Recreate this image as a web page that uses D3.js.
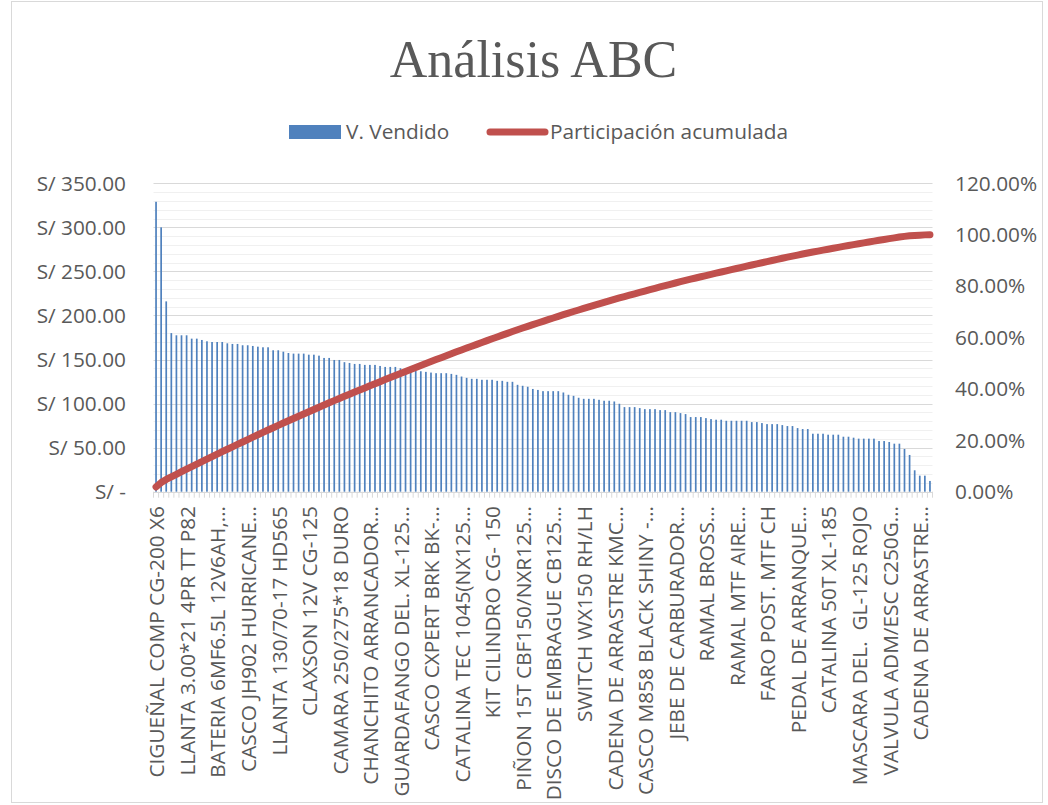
<!DOCTYPE html>
<html>
<head>
<meta charset="utf-8">
<script src="https://cdn.jsdelivr.net/npm/d3@7"></script>
<style>
  body { margin: 0; background: #fff; }
  text { font-family: "Open Sans", sans-serif; fill: #595959; white-space: pre; }
</style>
</head>
<body>
<div id="chart"></div>
<script>
(function() {
  "use strict";

  // V. Vendido per product, sorted descending
  var ventas = [
    329, 300, 216, 180, 177.5, 177.5, 177.5, 173.7, 173.7, 172.2,
    170.7, 169.9, 169.9, 169.9, 168.4, 167.7, 167.7, 166.2, 166.2, 165.4,
    164.6, 163.9, 163.9, 160.5, 160.5, 158.9, 157.4, 156.7, 156.7, 156.7,
    155.5, 155.5, 154.4, 151.8, 151.8, 149.5, 149.5, 147, 146.1, 145,
    145, 143.9, 143.9, 143.9, 142.7, 141.6, 141.6, 141.6, 140.1, 139,
    138.2, 137.1, 136.7, 136, 135.2, 134.5, 134.5, 134.5, 133.7, 132.6,
    130.7, 129.2, 128.1, 128.1, 127, 127, 127, 125.8, 125.8, 124.7,
    124.7, 121.3, 120.2, 119.1, 116.6, 115.5, 114.1, 114.1, 114.1, 114.1,
    112.6, 110, 108.8, 106.6, 105.4, 105.4, 105.4, 104.3, 103.2, 103.2,
    102.4, 99.8, 96, 96, 96, 94.9, 93.7, 93.7, 93.7, 92.6,
    92.6, 90.3, 90.3, 89.2, 88.1, 84.7, 84.7, 84.7, 83.5, 82.4,
    81.7, 81.7, 80.5, 80.5, 80.5, 80.5, 80.5, 79, 79, 77.9,
    76.7, 76.7, 76.7, 75.6, 74.5, 74.5, 72.2, 71.1, 71.1, 65.8,
    65.8, 65.8, 64.7, 64.7, 64.7, 62.4, 62.4, 61.3, 60.2, 60.2,
    60.2, 60.2, 57.5, 57.5, 56.4, 54.5, 54.5, 48.5, 41.7, 24.3,
    18.2, 18.2, 12.2
  ];

  // category names shown on the axis (every 6th product)
  var etiquetas = [
    "CIGUEÑAL COMP CG-200 X6",
    "LLANTA 3.00*21 4PR TT P82",
    "BATERIA 6MF6.5L 12V6AH,…",
    "CASCO JH902 HURRICANE…",
    "LLANTA 130/70-17 HD565",
    "CLAXSON 12V CG-125",
    "CAMARA 250/275*18 DURO",
    "CHANCHITO ARRANCADOR…",
    "GUARDAFANGO DEL. XL-125…",
    "CASCO CXPERT BRK BK-…",
    "CATALINA TEC 1045(NX125…",
    "KIT CILINDRO CG- 150",
    "PIÑON 15T CBF150/NXR125…",
    "DISCO DE EMBRAGUE CB125…",
    "SWITCH WX150 RH/LH",
    "CADENA DE ARRASTRE KMC…",
    "CASCO M858 BLACK SHINY -…",
    "JEBE DE CARBURADOR…",
    "RAMAL BROSS…",
    "RAMAL MTF AIRE…",
    "FARO POST. MTF CH",
    "PEDAL DE ARRANQUE…",
    "CATALINA 50T XL-185",
    "MASCARA DEL.  GL-125 ROJO",
    "VALVULA ADM/ESC C250G…",
    "CADENA DE ARRASTRE…"
  ];
  var pasoEtiqueta = 6;

  var ticksSoles = [0, 50, 100, 150, 200, 250, 300, 350];
  var ticksPct = [0, 0.2, 0.4, 0.6, 0.8, 1, 1.2];

  var width = 1048, height = 805;
  var left = 153.5, right = 932.5, top = 183.3, bottom = 491.7;
  var fs = 20.8;

  var total = d3.sum(ventas);
  var acumulada = Array.from(d3.cumsum(ventas), function(v) { return v / total; });

  var svg = d3.select("#chart").append("svg")
    .attr("width", width)
    .attr("height", height);

  svg.append("rect")
    .attr("x", 11.5).attr("y", 1.5)
    .attr("width", 1031).attr("height", 801)
    .attr("fill", "#fff")
    .attr("stroke", "#D9D9D9");

  var x = d3.scaleBand()
    .domain(d3.range(ventas.length))
    .range([left, right]);

  var y = d3.scaleLinear().domain([0, 350]).range([bottom, top]);
  var y2 = d3.scaleLinear().domain([0, 1.2]).range([bottom, top]);

  /* ------- GRIDLINES ------- */
  var minor = d3.range(0, 351, 10).filter(function(v) { return v % 50 !== 0; });
  svg.append("g").selectAll("line")
    .data(minor)
    .enter().append("line")
    .attr("x1", left).attr("x2", right)
    .attr("y1", function(d) { return Math.round(y(d)) + 0.5; })
    .attr("y2", function(d) { return Math.round(y(d)) + 0.5; })
    .attr("stroke", "#F0F0F0");

  svg.append("g").selectAll("line")
    .data(ticksSoles.slice(1))
    .enter().append("line")
    .attr("x1", left).attr("x2", right)
    .attr("y1", function(d) { return Math.round(y(d)) + 0.5; })
    .attr("y2", function(d) { return Math.round(y(d)) + 0.5; })
    .attr("stroke", "#D9D9D9");

  /* ------- BARS ------- */
  var barW = 1.7;
  svg.append("g").selectAll("rect")
    .data(ventas)
    .enter().append("rect")
    .attr("x", function(d, i) { return x(i) + x.bandwidth() / 2 - barW / 2; })
    .attr("y", function(d) { return y(d); })
    .attr("width", barW)
    .attr("height", function(d) { return y(0) - y(d); })
    .attr("fill", "#4F81BD");

  // category axis line and tick marks
  svg.append("line")
    .attr("x1", left).attr("x2", right)
    .attr("y1", Math.round(bottom) + 0.5).attr("y2", Math.round(bottom) + 0.5)
    .attr("stroke", "#D9D9D9");

  svg.append("g").selectAll("line")
    .data(d3.range(ventas.length + 1))
    .enter().append("line")
    .attr("x1", function(i) { return i < ventas.length ? x(i) : right; })
    .attr("x2", function(i) { return i < ventas.length ? x(i) : right; })
    .attr("y1", bottom).attr("y2", bottom + 6)
    .attr("stroke", "#D9D9D9");

  /* ------- CUMULATIVE LINE ------- */
  var line = d3.line()
    .x(function(d, i) { return x(i) + x.bandwidth() / 2; })
    .y(function(d) { return y2(d); });

  svg.append("path")
    .datum(acumulada)
    .attr("d", line)
    .attr("fill", "none")
    .attr("stroke", "#C0504D")
    .attr("stroke-width", 7)
    .attr("stroke-linecap", "round")
    .attr("stroke-linejoin", "round");

  /* ------- AXIS LABELS ------- */
  svg.append("g").selectAll("text")
    .data(ticksSoles)
    .enter().append("text")
    .attr("x", 126)
    .attr("y", function(d) { return y(d); })
    .attr("dy", "0.35em")
    .attr("text-anchor", "end")
    .attr("font-size", fs)
    .text(function(d) { return d === 0 ? "S/ -" : "S/ " + d3.format(".2f")(d); });

  svg.append("g").selectAll("text")
    .data(ticksPct)
    .enter().append("text")
    .attr("x", 955)
    .attr("y", function(d) { return y2(d); })
    .attr("dy", "0.35em")
    .attr("font-size", fs)
    .text(function(d) { return d3.format(".2%")(d); });

  svg.append("g").selectAll("text")
    .data(etiquetas)
    .enter().append("text")
    .attr("transform", function(d, k) {
      var cx = x(k * pasoEtiqueta) + x.bandwidth() / 2 + 1;
      return "translate(" + cx + "," + 506 + ") rotate(-90)";
    })
    .attr("dy", "0.35em")
    .attr("text-anchor", "end")
    .attr("font-size", fs)
    .text(function(d) { return d; });

  /* ------- TITLE AND LEGEND ------- */
  svg.append("text")
    .attr("x", 533.5).attr("y", 77)
    .attr("text-anchor", "middle")
    .style("font-family", "'Liberation Serif', serif")
    .attr("font-size", 52)
    .text("Análisis ABC");

  svg.append("rect")
    .attr("x", 289).attr("y", 125)
    .attr("width", 52).attr("height", 14)
    .attr("fill", "#4F81BD");
  svg.append("text")
    .attr("x", 346).attr("y", 139)
    .attr("font-size", fs)
    .text("V. Vendido");

  svg.append("line")
    .attr("x1", 490).attr("x2", 545)
    .attr("y1", 132).attr("y2", 132)
    .attr("stroke", "#C0504D")
    .attr("stroke-width", 7)
    .attr("stroke-linecap", "round");
  svg.append("text")
    .attr("x", 550).attr("y", 139)
    .attr("font-size", fs)
    .text("Participación acumulada");
})();
</script>
</body>
</html>
